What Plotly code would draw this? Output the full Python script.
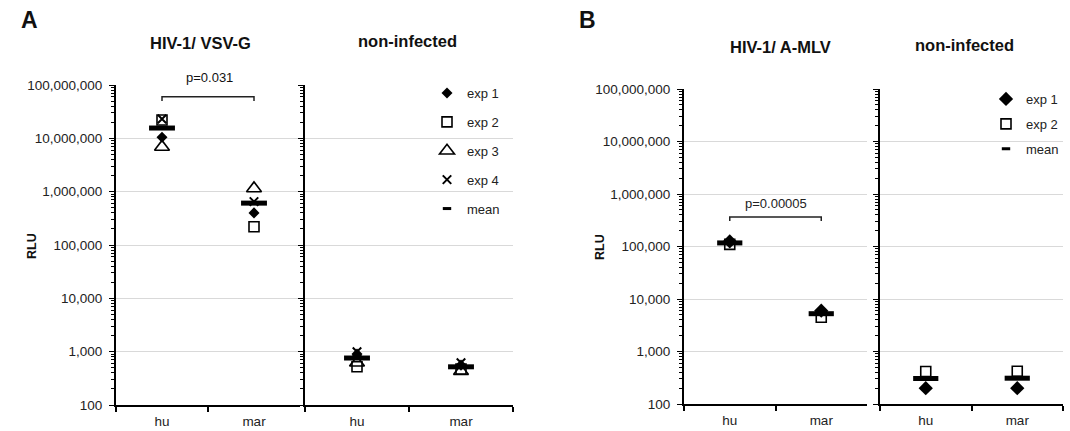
import plotly.graph_objects as go
import math

W, H = 1070, 431

# ---------------- data ----------------
categories = ["hu", "mar"]

# Panel A: HIV-1/ VSV-G
a_vsv_exp1 = [10500000, 400000]
a_vsv_exp2 = [22000000, 220000]
a_vsv_exp3 = [6900000, 1150000]
a_vsv_exp4 = [23000000, 650000]
a_vsv_mean = [15600000, 610000]

# Panel A: non-infected
a_ni_exp1 = [900, 560]
a_ni_exp2 = [520, 470]
a_ni_exp3 = [620, 430]
a_ni_exp4 = [1000, 620]
a_ni_mean = [760, 520]

# Panel B: HIV-1/ A-MLV
b_mlv_exp1 = [125000, 6000]
b_mlv_exp2 = [110000, 4500]
b_mlv_mean = [117000, 5250]

# Panel B: non-infected
b_ni_exp1 = [200, 200]
b_ni_exp2 = [416, 420]
b_ni_mean = [306, 310]

# significance brackets
a_bracket_y = [50000000, 60000000]
b_bracket_y = [306000, 365000]
a_pval = "p=0.031"
b_pval = "p=0.00005"

FONT = "Liberation Sans, Arial, sans-serif"

fig = go.Figure()

def px_x(a, b):
    return [a / W, b / W]

def px_y(top, bottom):
    return [1 - bottom / H, 1 - top / H]

# marker styles
def st_exp1(size):
    return dict(symbol="diamond", size=size, color="black", line=dict(width=0))

def st_exp2(size):
    return dict(symbol="square-open", size=size, color="black", line=dict(width=1.6))

def st_exp3(size):
    return dict(symbol="triangle-up-open", size=size, color="black", line=dict(width=1.6))

def st_exp4(size):
    return dict(symbol="x-thin-open", size=size, color="black", line=dict(width=2, color="black"))

def st_mean(size, lw):
    return dict(symbol="line-ew", size=size, color="black", line=dict(width=lw, color="black"))


def add_panel(xa, ya, series, legend, showleg, groupprefix):
    for name, vals, marker in series:
        fig.add_trace(go.Scatter(
            x=categories, y=vals, mode="markers", name=name,
            marker=marker, xaxis=xa, yaxis=ya,
            showlegend=showleg and name != "mean", legend=legend,
            legendgroup=groupprefix + name, cliponaxis=False,
        ))

# Panel A left
add_panel("x", "y", [
    ("exp 1", a_vsv_exp1, st_exp1(8.5)),
    ("exp 2", a_vsv_exp2, st_exp2(10)),
    ("exp 3", a_vsv_exp3, st_exp3(13)),
    ("exp 4", a_vsv_exp4, st_exp4(8.5)),
    ("mean", a_vsv_mean, st_mean(18.5, 5)),
], "legend", True, "A")
# Panel A right
add_panel("x2", "y2", [
    ("exp 1", a_ni_exp1, st_exp1(8.5)),
    ("exp 2", a_ni_exp2, st_exp2(10)),
    ("exp 3", a_ni_exp3, st_exp3(13)),
    ("exp 4", a_ni_exp4, st_exp4(8.5)),
    ("mean", a_ni_mean, st_mean(18.5, 5)),
], "legend", False, "A")
# legend-only mean entry A
fig.add_trace(go.Scatter(x=[None], y=[None], mode="markers", name="mean",
                         marker=st_mean(6, 3), xaxis="x2", yaxis="y2",
                         legend="legend", legendgroup="Amean", showlegend=True))

# Panel B left
add_panel("x3", "y3", [
    ("exp 1", b_mlv_exp1, st_exp1(11)),
    ("exp 2", b_mlv_exp2, st_exp2(10)),
    ("mean", b_mlv_mean, st_mean(18, 5)),
], "legend2", True, "B")
# Panel B right
add_panel("x4", "y4", [
    ("exp 1", b_ni_exp1, st_exp1(11)),
    ("exp 2", b_ni_exp2, st_exp2(10)),
    ("mean", b_ni_mean, st_mean(18, 5)),
], "legend2", False, "B")
fig.add_trace(go.Scatter(x=[None], y=[None], mode="markers", name="mean",
                         marker=st_mean(6, 3), xaxis="x4", yaxis="y4",
                         legend="legend2", legendgroup="Bmean", showlegend=True))

# brackets
fig.add_trace(go.Scatter(x=["hu", "hu", "mar", "mar"],
                         y=[a_bracket_y[0], a_bracket_y[1], a_bracket_y[1], a_bracket_y[0]],
                         mode="lines", line=dict(color="#222", width=1.5),
                         xaxis="x", yaxis="y", showlegend=False, cliponaxis=False))
fig.add_trace(go.Scatter(x=["hu", "hu", "mar", "mar"],
                         y=[b_bracket_y[0], b_bracket_y[1], b_bracket_y[1], b_bracket_y[0]],
                         mode="lines", line=dict(color="#222", width=1.5),
                         xaxis="x3", yaxis="y3", showlegend=False, cliponaxis=False))

tickfont = dict(family=FONT, size=13.5, color="#222")

def xaxis_cfg(domain, anchor):
    return dict(domain=domain, anchor=anchor, type="category", range=[-0.5, 1.5],
                showline=True, linecolor="black", linewidth=2, showgrid=False,
                ticks="outside", ticklen=5, tickwidth=1.5, tickcolor="black",
                tickson="boundaries", tickfont=tickfont, zeroline=False, fixedrange=True,
                automargin=False, ticklabelstandoff=3)

def yaxis_cfg(domain, anchor, labels):
    return dict(domain=domain, anchor=anchor, type="log", range=[2, 8],
                tickmode="linear", tick0=0, dtick=1, tickformat=",d",
                showticklabels=labels, tickfont=tickfont,
                showline=True, linecolor="black", linewidth=2,
                showgrid=True, gridcolor="#d9d9d9", gridwidth=1,
                ticks="outside", ticklen=5, tickwidth=1.2, tickcolor="black",
                minor=dict(ticks="outside", ticklen=3, tickwidth=1, tickcolor="black",
                           dtick="D1", showgrid=False),
                zeroline=False, fixedrange=True, ticklabelstandoff=4, automargin=False)

yA = px_y(85, 405)
yB = px_y(89, 404)

fig.update_layout(
    template="none",
    width=W, height=H,
    margin=dict(l=0, r=0, t=0, b=0, pad=0, autoexpand=False),
    paper_bgcolor="white", plot_bgcolor="white",
    font=dict(family=FONT, color="#222"),
    xaxis=xaxis_cfg(px_x(116, 300), "y"),
    yaxis=yaxis_cfg(yA, "x", True),
    xaxis2=xaxis_cfg(px_x(305, 513), "y2"),
    yaxis2=yaxis_cfg(yA, "x2", False),
    xaxis3=xaxis_cfg(px_x(684, 867), "y3"),
    yaxis3=yaxis_cfg(yB, "x3", True),
    xaxis4=xaxis_cfg(px_x(880, 1063), "y4"),
    yaxis4=yaxis_cfg(yB, "x4", False),
    legend=dict(x=427 / W, y=1 - 78 / H, xanchor="left", yanchor="top",
                font=dict(family=FONT, size=13, color="#222"),
                tracegroupgap=9, bgcolor="rgba(0,0,0,0)", borderwidth=0,
                itemsizing="trace"),
    legend2=dict(x=986 / W, y=1 - 84 / H, xanchor="left", yanchor="top",
                 font=dict(family=FONT, size=13, color="#222"),
                 tracegroupgap=5, bgcolor="rgba(0,0,0,0)", borderwidth=0,
                 itemsizing="trace"),
)

annotations = [
    dict(text="<b>A</b>", x=29 / W, y=1 - 20 / H, font=dict(size=23)),
    dict(text="<b>B</b>", x=587 / W, y=1 - 20 / H, font=dict(size=23)),
    dict(text="<b>HIV-1/ VSV-G</b>", x=200 / W, y=1 - 43 / H, font=dict(size=16.5)),
    dict(text="<b>non-infected</b>", x=407 / W, y=1 - 41 / H, font=dict(size=16.5)),
    dict(text="<b>HIV-1/ A-MLV</b>", x=780 / W, y=1 - 47 / H, font=dict(size=16.5)),
    dict(text="<b>non-infected</b>", x=964 / W, y=1 - 45 / H, font=dict(size=16.5)),
    dict(text="<b>RLU</b>", x=32 / W, y=1 - 246 / H, textangle=-90, font=dict(size=12.5)),
    dict(text="<b>RLU</b>", x=600 / W, y=1 - 247 / H, textangle=-90, font=dict(size=12.5)),
    dict(text=a_pval, x=209 / W, y=1 - 78 / H, font=dict(size=13)),
]
for a in annotations:
    a.update(xref="paper", yref="paper", showarrow=False, xanchor="center", yanchor="middle")
    a["font"].update(family=FONT, color="#111")

# p-value label for panel B (log-axis annotations use log10 of the value)
annotations.append(dict(text=b_pval, x=0.5, y=math.log10(b_bracket_y[1]) + 0.25,
                        xref="x3", yref="y3", showarrow=False, yanchor="middle",
                        font=dict(family=FONT, size=13, color="#222")))
fig.update_layout(annotations=annotations)

fig.write_html("out.html")
